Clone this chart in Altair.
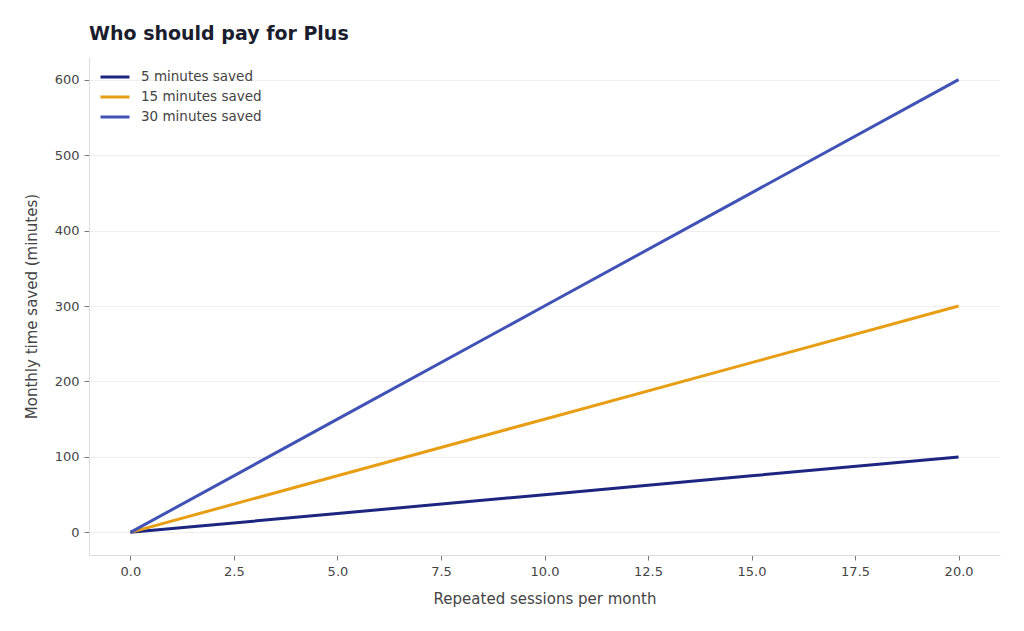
import pandas as pd
import altair as alt

# Values
sessions = [0, 5, 10, 15, 20]
saved_5 = [0, 25, 50, 75, 100]
saved_15 = [0, 75, 150, 225, 300]
saved_30 = [0, 150, 300, 450, 600]

series_names = ["5 minutes saved", "15 minutes saved", "30 minutes saved"]
series_colors = ["#1c2680", "#e89e14", "#4052b5"]

rows = []
for name, values in zip(series_names, [saved_5, saved_15, saved_30]):
    for s, v in zip(sessions, values):
        rows.append({"sessions": s, "minutes": v, "series": name})
df = pd.DataFrame(rows)

chart = alt.Chart(df).mark_line(strokeWidth=3).encode(
    x=alt.X("sessions:Q", title="Repeated sessions per month",
            scale=alt.Scale(domain=[-1, 21], nice=False, zero=False),
            axis=alt.Axis(values=[0, 2.5, 5, 7.5, 10, 12.5, 15, 17.5, 20],
                          format=".1f", grid=False, titlePadding=13)),
    y=alt.Y("minutes:Q", title="Monthly time saved (minutes)",
            scale=alt.Scale(domain=[-30, 630], nice=False, zero=False),
            axis=alt.Axis(values=[0, 100, 200, 300, 400, 500, 600],
                          grid=True, titlePadding=15)),
    color=alt.Color("series:N", sort=series_names,
                    scale=alt.Scale(domain=series_names, range=series_colors),
                    legend=alt.Legend(title=None, orient="none",
                                      legendX=10, legendY=12,
                                      symbolType="stroke", symbolSize=841,
                                      symbolStrokeWidth=3, labelFontSize=13.5,
                                      labelColor="#444444", clipHeight=16,
                                      rowPadding=4, labelOffset=10)),
    order=alt.Order("sessions:Q"),
).properties(
    width=911,
    height=498,
    autosize=alt.AutoSizeParams(type="none"),
    padding={"left": 81, "top": 49, "right": 16, "bottom": 60},
    title=alt.TitleParams("Who should pay for Plus", anchor="start", frame="group",
                          fontSize=19, fontWeight="bold", color="#1a1d2e",
                          offset=13),
)

chart = chart.configure(font="DejaVu Sans").configure_axis(
    labelFontSize=13, labelColor="#444444", titleFontSize=15,
    titleFontWeight="normal", titleColor="#444444", domainColor="#dddddd",
    tickColor="#777777", tickSize=5, labelPadding=5, gridColor="#eeeeee",
).configure_view(strokeWidth=0)

chart.save("out.html", embed_options={"renderer": "svg", "actions": False})
